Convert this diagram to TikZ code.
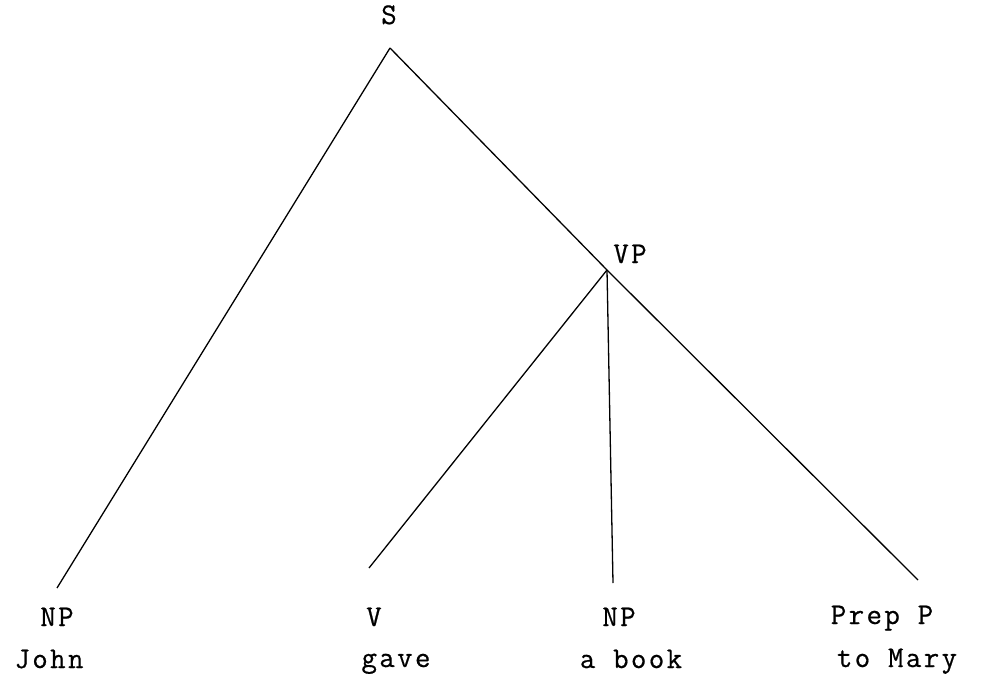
\documentclass[tikz,border=0pt]{standalone}
\usepackage{fontspec}
\newfontfamily\twfont[LetterSpace=8,FakeBold=0.6]{Latin Modern Mono}
\begin{document}
\begin{tikzpicture}[x=1pt,y=-1pt,
  lbl/.style={font=\twfont\fontsize{30}{32}\selectfont, inner sep=0pt, anchor=base},
  edge/.style={draw=black, line width=1.3pt}]
\useasboundingbox (0,0) rectangle (982,677);
% junction points
\coordinate (s) at (390,48);
\coordinate (vp) at (607,270);
\coordinate (np1) at (57,588);
\coordinate (v) at (369,568);
\coordinate (np2) at (613,583);
\coordinate (pp) at (918,580);
% labels
\node[lbl] (Slab) at (389,24) {S};
\node[lbl] (VPlab) at (630,263) {VP};
\node[lbl] (NP1lab) at (57,626) {NP};
\node[lbl] (Vlab) at (374,626) {V};
\node[lbl] (NP2lab) at (619,626) {NP};
\node[lbl] (PPlab) at (882,624) {Prep P};
\node[lbl] (john) at (49,668) {John};
\node[lbl] (gave) at (396,667) {gave};
\node[lbl] (abook) at (631,668) {a book};
\node[lbl] (tomary) at (897,667) {to Mary};
% edges
\draw[edge] (s) -- (np1);
\draw[edge] (s) -- (vp);
\draw[edge] (vp) -- (pp);
\draw[edge] (vp) -- (v);
\draw[edge] (vp) -- (np2);
\end{tikzpicture}
\end{document}
